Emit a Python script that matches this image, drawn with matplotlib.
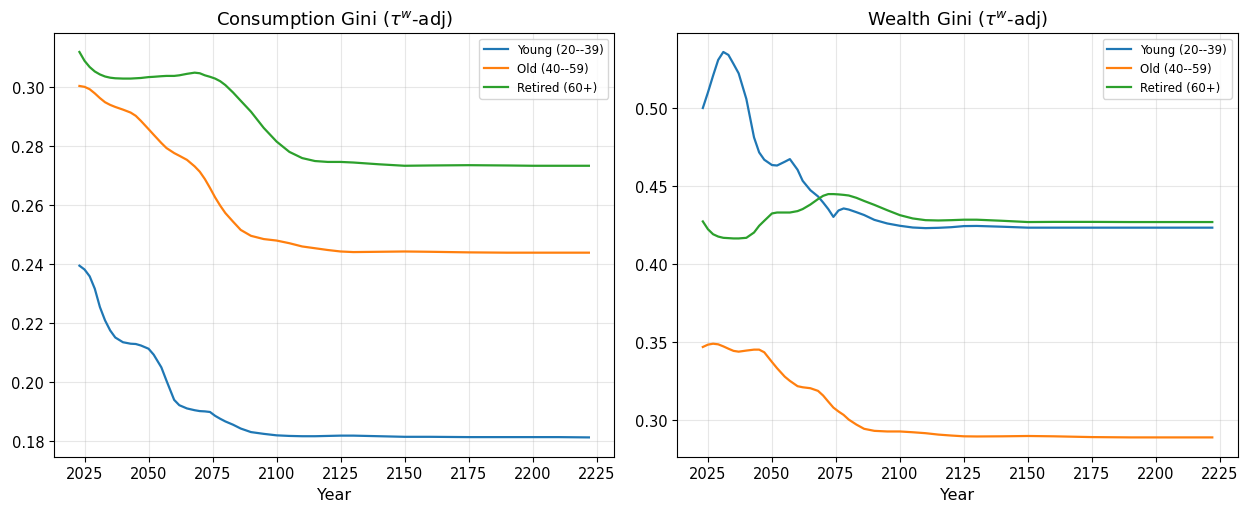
import matplotlib
matplotlib.use("Agg")
import matplotlib.pyplot as plt

# Transition path years and Gini coefficients by age group
years = [2023, 2025, 2027, 2029, 2031, 2033, 2035, 2037,
         2040, 2043, 2045, 2047, 2050, 2052, 2055, 2057,
         2060, 2062, 2065, 2068, 2070, 2072, 2074, 2076, 2078,
         2080, 2083, 2086, 2090, 2095,
         2100, 2105, 2110, 2115, 2120, 2125, 2130, 2140,
         2150, 2160, 2175, 2190, 2200, 2210, 2222]

# Consumption Gini
cons_young = [0.2394, 0.2381, 0.2358, 0.2316, 0.2254, 0.2209, 0.2175, 0.2151,
              0.2135, 0.2130, 0.2129, 0.2124, 0.2113, 0.2093, 0.2050, 0.2005,
              0.1940, 0.1922, 0.1911, 0.1905, 0.1902, 0.1901, 0.1899, 0.1886, 0.1876,
              0.1867, 0.1856, 0.1843, 0.1831, 0.1825,
              0.1820, 0.1818, 0.1817, 0.1817, 0.1818, 0.1819, 0.1819, 0.1817,
              0.1815, 0.1815, 0.1814, 0.1814, 0.1814, 0.1814, 0.1813]
cons_old = [0.3002, 0.2999, 0.2991, 0.2977, 0.2961, 0.2947, 0.2938, 0.2931,
            0.2922, 0.2912, 0.2901, 0.2884, 0.2856, 0.2837, 0.2809, 0.2792,
            0.2775, 0.2766, 0.2752, 0.2730, 0.2712, 0.2687, 0.2657, 0.2625, 0.2597,
            0.2572, 0.2543, 0.2515, 0.2495, 0.2484,
            0.2479, 0.2470, 0.2459, 0.2453, 0.2447, 0.2442, 0.2440, 0.2441,
            0.2442, 0.2441, 0.2439, 0.2438, 0.2438, 0.2438, 0.2438]
cons_retired = [0.3117, 0.3087, 0.3066, 0.3051, 0.3041, 0.3034, 0.3030, 0.3028,
                0.3027, 0.3027, 0.3028, 0.3029, 0.3032, 0.3033, 0.3035, 0.3036,
                0.3036, 0.3038, 0.3043, 0.3047, 0.3045, 0.3038, 0.3033, 0.3027, 0.3018,
                0.3005, 0.2980, 0.2952, 0.2915, 0.2860,
                0.2814, 0.2779, 0.2758, 0.2748, 0.2745, 0.2745, 0.2743, 0.2737,
                0.2732, 0.2733, 0.2734, 0.2733, 0.2732, 0.2732, 0.2732]

# Wealth Gini
wealth_young = [0.5000, 0.5100, 0.5207, 0.5308, 0.5359, 0.5340, 0.5282, 0.5222,
                0.5058, 0.4812, 0.4716, 0.4669, 0.4635, 0.4632, 0.4656, 0.4673,
                0.4605, 0.4534, 0.4474, 0.4434, 0.4395, 0.4353, 0.4303, 0.4344, 0.4357,
                0.4350, 0.4333, 0.4315, 0.4284, 0.4261,
                0.4246, 0.4235, 0.4231, 0.4233, 0.4237, 0.4244, 0.4245, 0.4240,
                0.4234, 0.4234, 0.4234, 0.4234, 0.4234, 0.4234, 0.4234]
wealth_old = [0.3470, 0.3485, 0.3491, 0.3487, 0.3474, 0.3459, 0.3445, 0.3440,
              0.3447, 0.3453, 0.3453, 0.3436, 0.3374, 0.3334, 0.3280, 0.3253,
              0.3219, 0.3212, 0.3206, 0.3189, 0.3159, 0.3120, 0.3082, 0.3057, 0.3035,
              0.3005, 0.2973, 0.2946, 0.2933, 0.2929,
              0.2929, 0.2924, 0.2918, 0.2909, 0.2903, 0.2898, 0.2897, 0.2898,
              0.2900, 0.2898, 0.2893, 0.2891, 0.2891, 0.2891, 0.2891]
wealth_retired = [0.4274, 0.4224, 0.4192, 0.4177, 0.4169, 0.4167, 0.4165, 0.4165,
                  0.4169, 0.4203, 0.4246, 0.4278, 0.4325, 0.4331, 0.4331, 0.4331,
                  0.4340, 0.4353, 0.4382, 0.4417, 0.4438, 0.4449, 0.4449, 0.4447, 0.4444,
                  0.4440, 0.4425, 0.4405, 0.4380, 0.4346,
                  0.4314, 0.4293, 0.4282, 0.4280, 0.4282, 0.4285, 0.4285, 0.4278,
                  0.4270, 0.4271, 0.4271, 0.4270, 0.4270, 0.4270, 0.4270]

labels = ["Young (20--39)", "Old (40--59)", "Retired (60+)"]
titles = [r"Consumption Gini ($\tau^w$-adj)", r"Wealth Gini ($\tau^w$-adj)"]

fig, axes = plt.subplots(1, 2, figsize=(12.49, 5.06), dpi=100)
fig.subplots_adjust(left=0.0432, right=0.991, bottom=0.0955, top=0.9334, wspace=0.1124)

panels = [(cons_young, cons_old, cons_retired), (wealth_young, wealth_old, wealth_retired)]
for ax, series, title in zip(axes, panels, titles):
    for values, label in zip(series, labels):
        ax.plot(years, values, label=label, linewidth=1.6)
    ax.set_title(title, fontsize=13)
    ax.set_xlabel("Year", fontsize=11.5)
    ax.tick_params(labelsize=10.5)
    ax.grid(True, alpha=0.3)
    ax.legend(fontsize=8.5, loc="upper right")
    ax.set_xticks(range(2025, 2226, 25))

fig.savefig("out.png", dpi=100)
